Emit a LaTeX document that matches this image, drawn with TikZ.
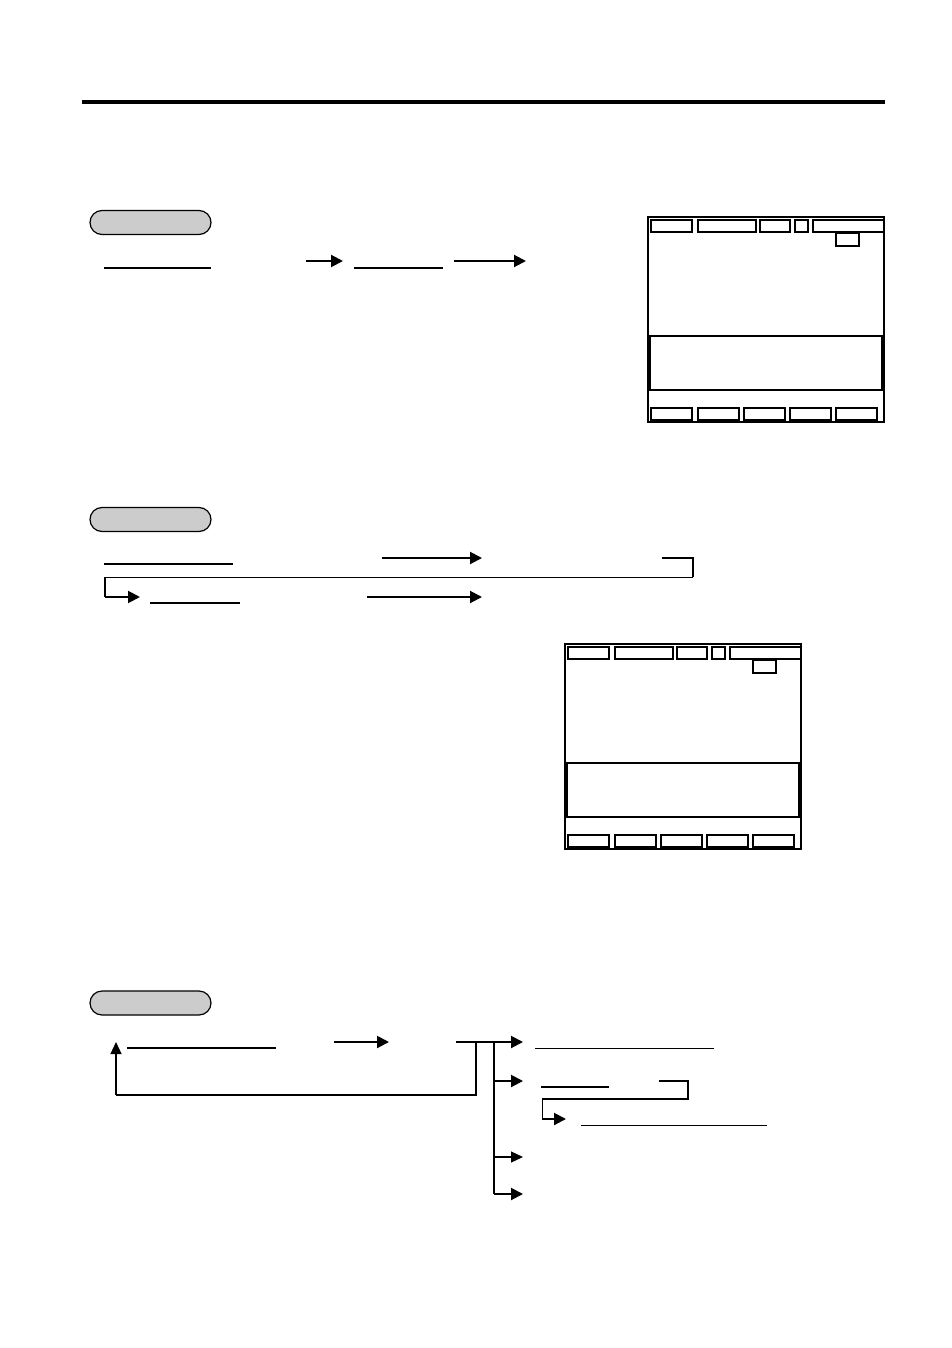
\documentclass[tikz,border=0pt]{standalone}
\usepackage{tikz}
\usetikzlibrary{arrows.meta,positioning}

\begin{document}
\begin{tikzpicture}[x=1pt,y=-1pt,
 tab/.style={draw,line width=1.2pt,fill=black!20,rounded corners=12pt,
 minimum width=121pt,minimum height=24pt,inner sep=0pt},
 ul/.style={line width=1.5pt},
 thinline/.style={line width=1pt},
 bold/.style={line width=2pt},
 arr/.style={-{Triangle[length=12pt,width=12pt]},line width=2pt},
 tarr/.style={-{Triangle[length=12pt,width=11pt]},line width=1.2pt},
 frame/.style={line width=1.1pt},
 screen/.pic={
 \draw[frame] (0,0) rectangle (236,205);
 \draw[frame] (3,3) rectangle (44,15) (50,3) rectangle (108,15)
 (112,3) rectangle (142,15) (147,3) rectangle (160,15)
 (165,3) rectangle (236,15);
 \draw[frame] (188,16) rectangle (211,29);
 \draw[frame] (2,119) rectangle (234,173);
 \foreach \bx in {3,50,96,142,188}
 \draw[frame] (\bx,191) rectangle ++(41,12);
 }]
\useasboundingbox (0,0) rectangle (952,1348);

% page rule
\draw[line width=4pt] (82,102) -- (885,102);

% step tabs
\node[tab] (tab1) at (150.5,222.5) {};
\node[tab] (tab2) at (150.5,519.5) {};
\node[tab] (tab3) at (150.5,1003) {};

% screens
\pic (scrA) at (648,217) {screen};
\pic (scrB) at (565,644) {screen};

% first step
\coordinate (k1) at (104,268);
\coordinate (k2) at (354,268);
\draw[ul] (k1) -- ++(107,0);
\draw[arr] (306,261) -- (343,261);
\draw[ul] (k2) -- ++(89,0);
\draw[arr] (454,261) -- (526,261);

% second step
\coordinate (turn) at (693,577);
\coordinate (back) at (105,577);
\coordinate (next) at (105,597);
\draw[ul] (104,564) -- (233,564);
\draw[arr] (382,558) -- (482,558);
\draw[bold] (662,558) -| (turn);
\draw[thinline] (turn) -- (back);
\draw[line width=1.4pt] (back) -- (next);
\draw[arr] (next) -- (140,597);
\draw[ul] (150,603) -- (240,603);
\draw[arr] (367,597) -- (482,597);

% third step
\coordinate (loop) at (476,1042);
\coordinate (fork) at (494,1042);
\coordinate (start) at (116,1095);
\draw[ul] (127,1048) -- (276,1048);
\draw[arr] (334,1042) -- (389,1042);
\draw[bold] (loop) |- (start);
\draw[tarr] (start) -- (116,1042);
\draw[arr] (456,1042) -- (523,1042);
\draw[bold] (fork) -- (494,1194);
\draw[arr] (494,1081) -- (523,1081);
\draw[tarr] (494,1157) -- (523,1157);
\draw[arr] (494,1194) -- (523,1194);
\draw[thinline] (535,1048) -- (714,1048);
\draw[line width=2pt] (541,1087) -- (609,1087);
\draw[bold] (659,1081) -| (688,1099) -- (542,1099);
\draw[thinline] (542,1099) -- (542,1119);
\draw[arr] (542,1119) -- (566,1119);
\draw[thinline] (581,1125) -- (767,1125);
\end{tikzpicture}
\end{document}
